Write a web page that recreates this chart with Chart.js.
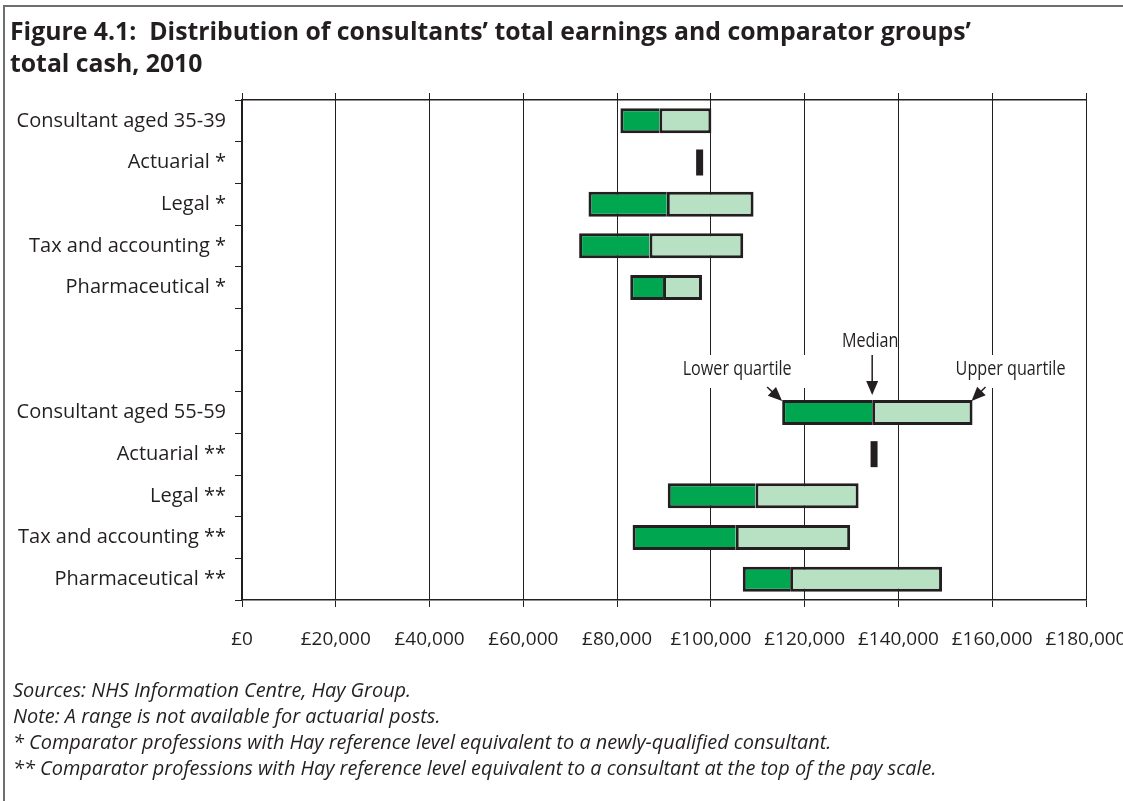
<!DOCTYPE html>
<html lang="en">
<head>
    <meta charset="UTF-8">
    <title>Figure 4.1</title>
    <style>
        body { margin: 0; background: #fff; }
        #frame {
            position: absolute; left: 3px; top: 5px; width: 1120px; height: 796px;
            border-left: 2px solid #6d6e71; border-top: 2px solid #6d6e71;
        }
        #chart { position: absolute; left: 0; top: 0; }
        #title {
            position: absolute; left: 10px; top: 14px;
            font: bold 24.8px/32px 'Open Sans', sans-serif; color: #231f20;
        }
        #notes {
            position: absolute; left: 13px; top: 677px;
            font: italic 19.9px/26px 'Open Sans', sans-serif; color: #231f20;
        }
    </style>
</head>
<body>
    <div id="frame"></div>
    <canvas id="chart" width="1123" height="801"></canvas>
    <div id="title">Figure 4.1:&nbsp; Distribution of consultants’ total earnings and comparator groups’<br>total cash, 2010</div>
    <div id="notes">
        Sources: NHS Information Centre, Hay Group.<br>
        Note: A range is not available for actuarial posts.<br>
        * Comparator professions with Hay reference level equivalent to a newly-qualified consultant.<br>
        ** Comparator professions with Hay reference level equivalent to a consultant at the top of the pay scale.
    </div>
    <script src="https://cdn.jsdelivr.net/npm/chart.js@4.4.1/dist/chart.umd.min.js"></script>
    <script>
        const rowLabels = [
            'Consultant aged 35-39', 'Actuarial *', 'Legal *', 'Tax and accounting *', 'Pharmaceutical *',
            '', '',
            'Consultant aged 55-59', 'Actuarial **', 'Legal **', 'Tax and accounting **', 'Pharmaceutical **'
        ]
        const lowerQuartile = [80700, null, 73900, 71900, 82800, null, null, 115200, null, 90800, 83300, 106800]
        const median = [89000, 97600, 90600, 86900, 89800, null, null, 134400, 134800, 109500, 105300, 116900]
        const upperQuartile = [100100, null, 109100, 106900, 98100, null, null, 155800, null, 131500, 129700, 149300]
        const xTicks = [0, 20000, 40000, 60000, 80000, 100000, 120000, 140000, 160000, 180000]
        const calloutRow = 'Consultant aged 55-59'

        const ink = '#231f20'
        const darkGreen = '#00a650'
        const lightGreen = '#b8e0c3'

        const money = v => '£' + String(v).replace(/\B(?=(\d{3})+(?!\d))/g, ',')

        const lowerBars = lowerQuartile.map((v, i) => v == null ? null : [v, median[i]])
        const upperBars = upperQuartile.map((v, i) => v == null ? null : [median[i], v])
        const singlePoints = []
        median.forEach((v, i) => {
            if (v != null && lowerQuartile[i] == null) singlePoints.push({x: v, y: rowLabels[i]})
        })

        function arrow(ctx, x1, y1, x2, y2) {
            const a = Math.atan2(y2 - y1, x2 - x1)
            const len = 14, half = 6
            ctx.beginPath()
            ctx.moveTo(x1, y1)
            ctx.lineTo(x2 - Math.cos(a) * len * 0.8, y2 - Math.sin(a) * len * 0.8)
            ctx.stroke()
            ctx.beginPath()
            ctx.moveTo(x2, y2)
            ctx.lineTo(x2 - Math.cos(a) * len - Math.sin(a) * half, y2 - Math.sin(a) * len + Math.cos(a) * half)
            ctx.lineTo(x2 - Math.cos(a) * len + Math.sin(a) * half, y2 - Math.sin(a) * len - Math.cos(a) * half)
            ctx.closePath()
            ctx.fill()
        }

        // narrow lettering for the callouts: squeeze a regular face sideways
        function narrowText(ctx, text, x, y, sx) {
            ctx.save()
            ctx.translate(x, y)
            ctx.scale(sx, 1)
            ctx.fillText(text, 0, 0)
            ctx.restore()
        }

        const callouts = {
            id: 'callouts',
            afterDatasetsDraw(chart) {
                const ctx = chart.ctx
                const xs = chart.scales.x
                const row = rowLabels.indexOf(calloutRow)
                const bar = chart.getDatasetMeta(0).data[row]
                const top = bar.y - bar.height / 2
                const lq = xs.getPixelForValue(lowerQuartile[row])
                const md = xs.getPixelForValue(median[row])
                const uq = xs.getPixelForValue(upperQuartile[row])
                ctx.save()
                ctx.font = '20px "Open Sans", sans-serif'
                ctx.textAlign = 'center'
                ctx.textBaseline = 'middle'
                const sx = 109 / ctx.measureText('Lower quartile').width
                const items = [
                    {text: 'Lower quartile', x: lq - 45, y: top - 31},
                    {text: 'Upper quartile', x: uq + 38, y: top - 31}
                ]
                items.forEach(it => {
                    const w = ctx.measureText(it.text).width * sx
                    ctx.fillStyle = '#fff'
                    ctx.fillRect(it.x - w / 2 - 16, it.y - 14, w + 32, 33)
                    ctx.fillStyle = ink
                    narrowText(ctx, it.text, it.x, it.y, sx)
                })
                narrowText(ctx, 'Median', md - 2, top - 59, sx)
                ctx.strokeStyle = ink
                ctx.fillStyle = ink
                ctx.lineWidth = 1.5
                arrow(ctx, md, top - 45, md, top - 5)
                arrow(ctx, lq - 15, top - 13, lq, top + 1)
                arrow(ctx, uq + 13, top - 13, uq - 1, top + 1)
                ctx.restore()
            }
        }

        const tickFont = {family: "'Open Sans', sans-serif", size: 19}

        new Chart(document.getElementById('chart'), {
            type: 'bar',
            data: {
                labels: rowLabels,
                datasets: [
                    {
                        label: 'Lower quartile to median',
                        data: lowerBars,
                        backgroundColor: darkGreen,
                        borderColor: ink,
                        borderWidth: 3,
                        borderSkipped: 'right',
                        grouped: false,
                        barPercentage: 0.6,
                        categoryPercentage: 1
                    },
                    {
                        label: 'Median to upper quartile',
                        data: upperBars,
                        backgroundColor: lightGreen,
                        borderColor: ink,
                        borderWidth: 3,
                        borderSkipped: false,
                        grouped: false,
                        barPercentage: 0.6,
                        categoryPercentage: 1
                    },
                    {
                        type: 'scatter',
                        label: 'Median only',
                        data: singlePoints,
                        pointStyle: 'line',
                        rotation: 90,
                        radius: 13,
                        borderWidth: 7,
                        borderColor: ink,
                        backgroundColor: ink
                    }
                ]
            },
            options: {
                indexAxis: 'y',
                responsive: false,
                animation: false,
                devicePixelRatio: 1,
                events: [],
                layout: {padding: {top: 93, right: 37, bottom: 141, left: 0}},
                plugins: {
                    legend: {display: false},
                    tooltip: {enabled: false}
                },
                scales: {
                    x: {
                        type: 'linear',
                        position: 'bottom',
                        min: xTicks[0],
                        max: xTicks[xTicks.length - 1],
                        afterBuildTicks: s => { s.ticks = xTicks.map(v => ({value: v})) },
                        afterFit: s => { s.height = 60; s.paddingLeft = 0; s.paddingRight = 0 },
                        grid: {color: ink, lineWidth: 1, tickLength: 7},
                        border: {color: ink, width: 1.5},
                        ticks: {
                            color: ink, font: tickFont, padding: 21, maxRotation: 0,
                            callback: v => money(v)
                        }
                    },
                    x2: {
                        type: 'linear',
                        position: 'top',
                        axis: 'x',
                        min: xTicks[0],
                        max: xTicks[xTicks.length - 1],
                        afterBuildTicks: s => { s.ticks = xTicks.map(v => ({value: v})) },
                        afterFit: s => { s.height = 7; s.paddingLeft = 0; s.paddingRight = 0 },
                        grid: {color: ink, lineWidth: 1, tickLength: 7, drawOnChartArea: false},
                        border: {color: ink, width: 1.5},
                        ticks: {display: false}
                    },
                    y: {
                        type: 'category',
                        position: 'left',
                        afterFit: s => { s.width = 242; s.paddingTop = 0; s.paddingBottom = 0 },
                        grid: {color: ink, lineWidth: 1, tickLength: 7, drawOnChartArea: false, offset: true},
                        border: {color: ink, width: 1.5},
                        ticks: {color: ink, font: {family: "'Open Sans', sans-serif", size: 20}, padding: 9}
                    }
                }
            },
            plugins: [callouts]
        })
    </script>
</body>
</html>
